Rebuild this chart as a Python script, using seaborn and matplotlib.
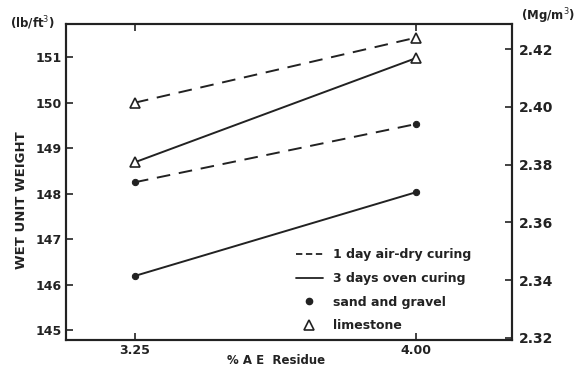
import matplotlib
matplotlib.use("Agg")
import matplotlib.pyplot as plt
from matplotlib.lines import Line2D
import seaborn as sns
import pandas as pd

# Data
residue = [3.25, 4.00]
sand_1day = [148.25, 149.53]
sand_3day = [146.19, 148.03]
lime_1day = [150.00, 151.43]
lime_3day = [148.69, 150.98]

left_ticks = [145, 146, 147, 148, 149, 150, 151]
right_ticks = [2.32, 2.34, 2.36, 2.38, 2.40, 2.42]
x_ticks = [3.25, 4.00]
x_ticklabels = ["3.25", "4.00"]

rows = []
for agg, cur, vals in [("sand and gravel", "1 day air-dry curing", sand_1day),
                       ("sand and gravel", "3 days oven curing", sand_3day),
                       ("limestone", "1 day air-dry curing", lime_1day),
                       ("limestone", "3 days oven curing", lime_3day)]:
    for x, y in zip(residue, vals):
        rows.append({"residue": x, "weight": y, "aggregate": agg, "curing": cur})
df = pd.DataFrame(rows)

sns.set_theme(style="white")
plt.rcParams['font.family'] = ['DejaVu Sans']

fig = plt.figure(figsize=(5.84, 3.72), dpi=100)
ax = fig.add_axes([66/584, 1-340/372, (512-66)/584, (340-24)/372])

ls_map = {"1 day air-dry curing": (0, (7, 4.5)), "3 days oven curing": "-"}
for (agg, cur), sub in df.groupby(["aggregate", "curing"]):
    if agg == "limestone":
        mk = dict(marker="^", markersize=6.5, markerfacecolor="white",
                  markeredgecolor="#222222", markeredgewidth=1.2)
    else:
        mk = dict(marker="o", markersize=4.5, markerfacecolor="#222222",
                  markeredgecolor="#222222")
    sns.lineplot(data=sub, x="residue", y="weight", ax=ax, color="#222222",
                 linewidth=1.4, linestyle=ls_map[cur], legend=False, **mk)

ax.set_xlim(3.066, 4.256)
ax.set_ylim(144.78, 151.73)
ax.set_xticks(x_ticks)
ax.set_xticklabels(x_ticklabels)
ax.set_yticks(left_ticks)
ax.set_yticklabels([str(t) for t in left_ticks])
ax.set_xlabel("")
ax.set_ylabel("")
for s in ax.spines.values():
    s.set_color("#222222")
    s.set_linewidth(1.5)
ax.tick_params(axis="both", direction="in", length=5, width=1.2, colors="#222222",
               labelsize=9, pad=3)
ax.tick_params(axis="x", top=True, bottom=True, labeltop=False)
ax.tick_params(axis="y", left=True, right=False)
for lab in ax.get_xticklabels() + ax.get_yticklabels():
    lab.set_fontweight("bold")
    lab.set_color("#222222")

ax2 = ax.twinx()
ax2.set_ylim(2.3193, 2.4287)
ax2.set_yticks(right_ticks)
ax2.set_yticklabels([f"{t:.2f}" for t in right_ticks])
ax2.tick_params(axis="y", direction="in", length=5, width=1.2, colors="#222222",
                labelsize=10, pad=5)
for lab in ax2.get_yticklabels():
    lab.set_fontweight("bold")
for s in ax2.spines.values():
    s.set_color("#222222")
    s.set_linewidth(1.5)
ax2.grid(False)
ax.grid(False)

handles = [
    Line2D([], [], color="#222222", linestyle=(0, (3.5, 2)), linewidth=1.3),
    Line2D([], [], color="#222222", linestyle="-", linewidth=1.3),
    Line2D([], [], color="#222222", linestyle="none", marker="o", markersize=4.5),
    Line2D([], [], color="#222222", linestyle="none", marker="^", markersize=6.5,
           markerfacecolor="white", markeredgewidth=1.2),
]
labels = ["1 day air-dry curing", "3 days oven curing", "sand and gravel", "limestone"]
leg = ax.legend(handles, labels, loc="upper left", bbox_to_anchor=(0.515, 0.29),
                frameon=False, fontsize=9, handlelength=2.2, handletextpad=0.8,
                labelspacing=0.85, borderpad=0, borderaxespad=0)
for t in leg.get_texts():
    t.set_fontweight("bold")
    t.set_color("#222222")

fig.text(10/584, 1-23/372, "(lb/ft$^3$)", fontsize=8.5, fontweight="bold",
         color="#222222", va="center", ha="left")
fig.text(521/584, 1-16/372, "(Mg/m$^3$)", fontsize=8.5, fontweight="bold",
         color="#222222", va="center", ha="left")
fig.text(22/584, 1-200/372, "WET UNIT WEIGHT", rotation=90, fontsize=9.5,
         fontweight="bold", color="#222222", va="center", ha="center")
fig.text(276/584, 1-360/372, "% A E  Residue", fontsize=8.5, fontweight="bold",
         color="#222222", va="center", ha="center")

fig.savefig("out.png", dpi=100, facecolor="white")
